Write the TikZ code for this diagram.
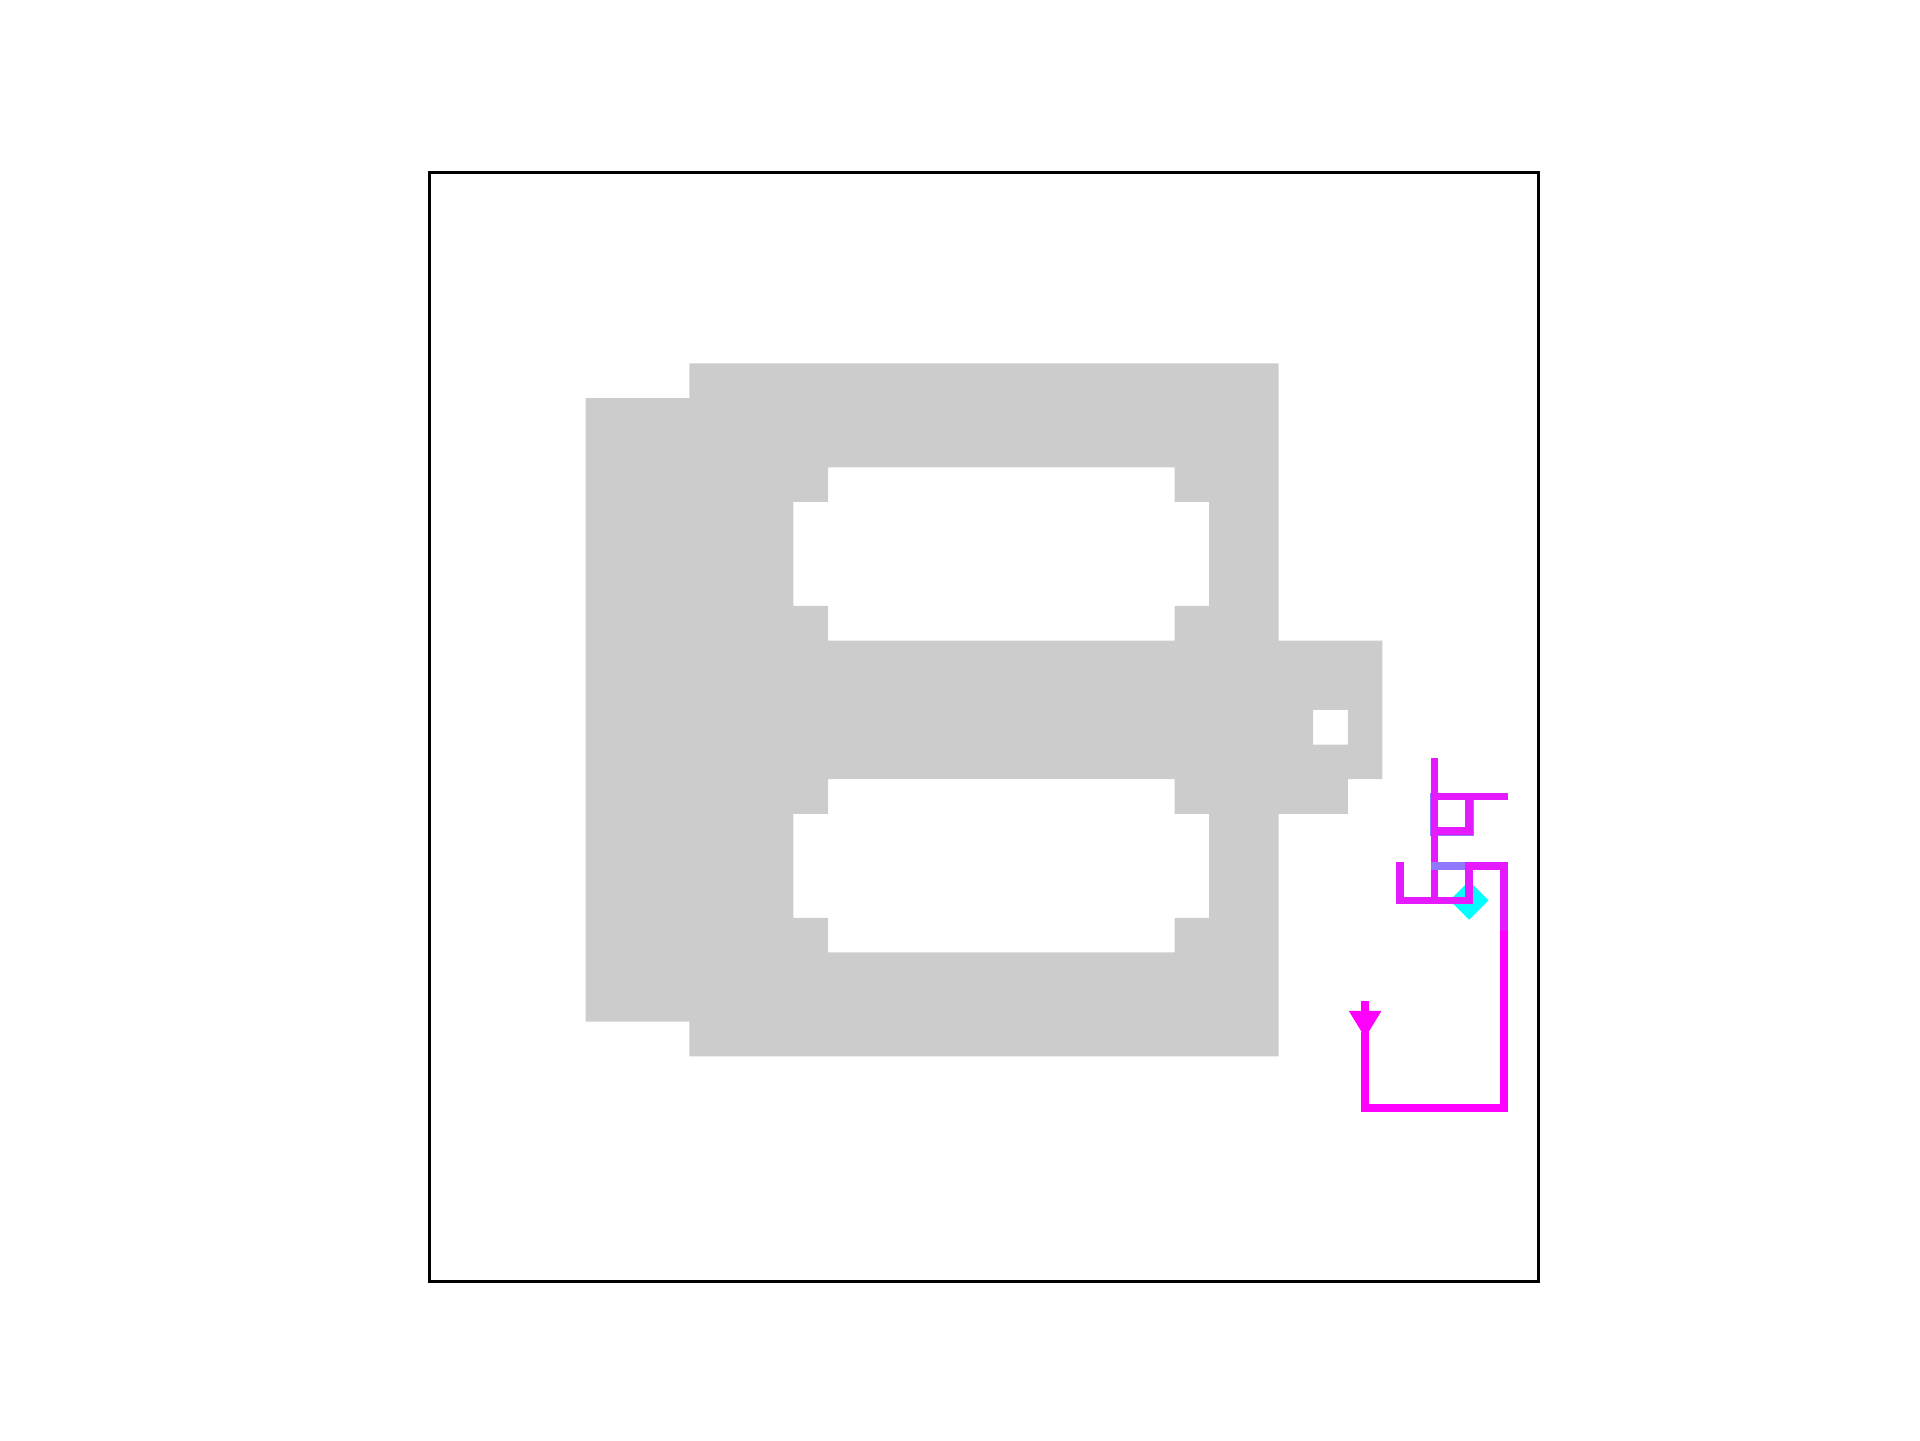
\documentclass[tikz,border=0pt]{standalone}
\usetikzlibrary{shapes.geometric}
\definecolor{graywall}{HTML}{CCCCCC}
\definecolor{mag}{HTML}{FF00FF}
\definecolor{magv}{RGB}{230,26,255}
\definecolor{purp}{RGB}{143,120,255}
\definecolor{cyanm}{HTML}{00FFFF}
\tikzset{
  pathseg/.style={line width=2.3pt, line cap=rect, line join=miter},
  frameline/.style={line width=1pt, black},
}
\begin{document}
\begin{tikzpicture}
\useasboundingbox (0,0) rectangle (20,15);
\begin{scope}[shift={(4.475cm,13.2cm)}, x=0.3609375cm, y=-0.3609375cm]
  % gray structure
  \fill[graywall, even odd rule]
    (7.5,5.5) -- (24.5,5.5) -- (24.5,13.5) -- (27.5,13.5) -- (27.5,17.5) -- (26.5,17.5)
    -- (26.5,18.5) -- (24.5,18.5) -- (24.5,25.5) -- (7.5,25.5) -- (7.5,24.5) -- (4.5,24.5)
    -- (4.5,6.5) -- (7.5,6.5) -- cycle
    (11.5,8.5) -- (21.5,8.5) -- (21.5,9.5) -- (22.5,9.5) -- (22.5,12.5) -- (21.5,12.5)
    -- (21.5,13.5) -- (11.5,13.5) -- (11.5,12.5) -- (10.5,12.5) -- (10.5,9.5) -- (11.5,9.5) -- cycle
    (11.5,17.5) -- (21.5,17.5) -- (21.5,18.5) -- (22.5,18.5) -- (22.5,21.5) -- (21.5,21.5)
    -- (21.5,22.5) -- (11.5,22.5) -- (11.5,21.5) -- (10.5,21.5) -- (10.5,18.5) -- (11.5,18.5) -- cycle
    (25.5,15.5) rectangle (26.5,16.5);
  % goal marker
  \fill[cyanm] (30,20.44) -- (30.56,21) -- (30,21.56) -- (29.44,21) -- cycle;
  % underlay
  \draw[pathseg, purp] (28.975,18) -- (28.975,19.025) -- (30.025,19.025) -- (30.025,18);
  % path segments
  \draw[pathseg, magv] (29,17) -- (29,21);
  \draw[pathseg, magv] (29,18) -- (31,18);
  \draw[pathseg, magv] (30,18) -- (30,19);
  \draw[pathseg, magv] (29,19) -- (30,19);
  \draw[pathseg, purp] (29,20) -- (30,20);
  \draw[pathseg, magv] (30,20) -- (31,20);
  \draw[pathseg, magv] (28,20) -- (28,21) -- (30,21);
  \draw[pathseg, magv] (30,20) -- (30,21);
  \draw[pathseg, magv] (31,20) -- (31,22);
  \draw[pathseg, mag] (31,22) -- (31,27) -- (27,27) -- (27,24.9);
  % arrow
  \draw[pathseg, mag] (27,24) -- (27,24.3);
  \fill[mag] (26.53,24.19) -- (27.47,24.19) -- (27,24.96) -- cycle;
  % frame
  \draw[frameline] (0,0) rectangle (32,32);
\end{scope}
\end{tikzpicture}
\end{document}
